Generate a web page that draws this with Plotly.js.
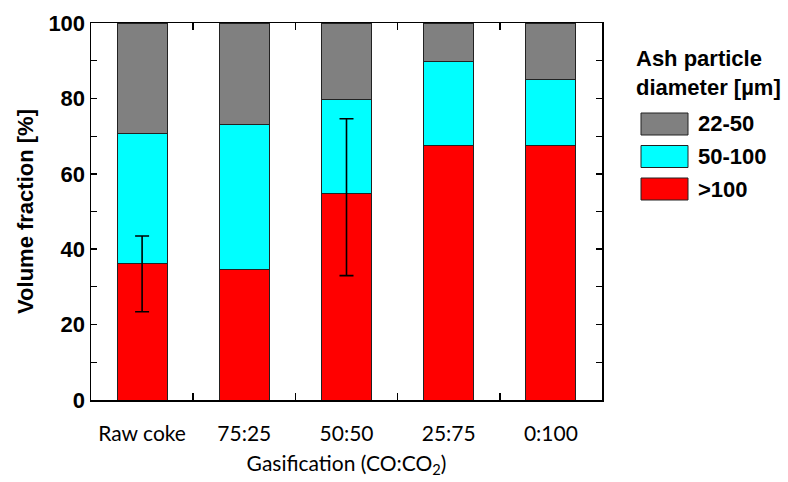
<!DOCTYPE html>
<html>
<head>
<meta charset="utf-8">
<script src="https://cdn.plot.ly/plotly-3.0.1.min.js"></script>
<style>html,body{margin:0;padding:0;background:#fff;}#chart{width:788px;height:482px;}</style>
</head>
<body>
<div id="chart"></div>
<script>
const categories = ["Raw coke", "75:25", "50:50", "25:75", "0:100"];
const seriesNames = [">100", "50-100", "22-50"];
const over100 = [36.1, 34.7, 54.9, 67.5, 67.6];
const from50to100 = [34.6, 38.5, 24.7, 22.4, 17.3];
const from22to50 = [29.3, 26.8, 20.4, 10.1, 15.1];
const errPlus = [7.4, null, 19.7, null, null];
const errMinus = [12.7, null, 21.9, null, null];
const colors = ["#FF0000", "#00FFFF", "#808080"];
const legendTitle = "Ash particle<br>diameter [µm]";

const seriesValues = [over100, from50to100, from22to50];
const traces = seriesValues.map((vals, i) => ({
  type: "bar",
  x: categories,
  y: vals,
  name: seriesNames[i],
  marker: {color: colors[i], line: {color: "#222", width: 1}},
  showlegend: false,
  hoverinfo: "skip"
}));
const errIdx = categories.map((c, i) => i).filter(i => errPlus[i] !== null);
traces.push({
  type: "scatter",
  mode: "markers",
  x: errIdx.map(i => categories[i]),
  y: errIdx.map(i => over100[i]),
  marker: {size: 1, color: "rgba(0,0,0,0)"},
  showlegend: false,
  hoverinfo: "skip",
  error_y: {type: "data", symmetric: false,
            array: errIdx.map(i => errPlus[i]), arrayminus: errIdx.map(i => errMinus[i]),
            color: "#000", thickness: 1.6, width: 7}
});

// custom legend (paper coords)
const L = 91, W = 511, B = 400, H = 377;
const px = v => (v - L) / W;
const py = v => (B - v) / H;
const shapes = [];
const annotations = [{
  xref: "paper", yref: "paper", x: px(634), y: py(44), xanchor: "left", yanchor: "top",
  text: "<b>" + legendTitle + "</b>", showarrow: false, align: "left",
  font: {family: "Liberation Sans, Arial, sans-serif", size: 22, color: "#000"}
}];
const legendOrder = [2, 1, 0];
legendOrder.forEach((si, k) => {
  const top = 113 + k * 32.5;
  shapes.push({type: "rect", xref: "paper", yref: "paper",
    x0: px(641), x1: px(688), y0: py(top), y1: py(top + 22),
    fillcolor: colors[si], line: {color: "#222", width: 1}});
  annotations.push({xref: "paper", yref: "paper", x: px(696), y: py(top + 11),
    xanchor: "left", yanchor: "middle", showarrow: false,
    text: "<b>" + seriesNames[si] + "</b>",
    font: {family: "Liberation Sans, Arial, sans-serif", size: 22, color: "#000"}});
});

const layout = {
  width: 788, height: 482,
  margin: {l: 91, r: 186, t: 23, b: 82},
  barmode: "stack",
  bargap: 0.51,
  paper_bgcolor: "#fff", plot_bgcolor: "#fff",
  showlegend: false,
  xaxis: {
    type: "category",
    showline: true, linecolor: "#000", linewidth: 1.5, mirror: "ticks",
    ticks: "inside", tickson: "boundaries", ticklen: 7, tickcolor: "#000", tickwidth: 1.5,
    ticklabelstandoff: 14,
    tickfont: {family: "Lato, sans-serif", size: 21, color: "#000"},
    title: {text: "Gasification (CO:CO<sub>2</sub>)", standoff: 12,
            font: {family: "Lato, sans-serif", size: 21, color: "#000"}},
    showgrid: false, zeroline: false, fixedrange: true
  },
  yaxis: {
    range: [0, 100], tickvals: [0, 20, 40, 60, 80, 100],
    ticktext: ["<b>0</b>", "<b>20</b>", "<b>40</b>", "<b>60</b>", "<b>80</b>", "<b>100</b>"],
    showline: true, linecolor: "#000", linewidth: 1.5, mirror: "ticks",
    ticks: "inside", ticklen: 6, tickcolor: "#000", tickwidth: 1.5,
    minor: {tickvals: [10, 30, 50, 70, 90], ticks: "inside", ticklen: 6, tickcolor: "#000", tickwidth: 1.2},
    tickfont: {family: "Liberation Sans, Arial, sans-serif", size: 22, color: "#000"},
    title: {text: "<b>Volume fraction [%]</b>", standoff: 8,
            font: {family: "Liberation Sans, Arial, sans-serif", size: 22, color: "#000"}},
    showgrid: false, zeroline: false, fixedrange: true
  },
  shapes: shapes,
  annotations: annotations
};

Plotly.newPlot("chart", traces, layout, {displayModeBar: false, staticPlot: true});
</script>
</body>
</html>
